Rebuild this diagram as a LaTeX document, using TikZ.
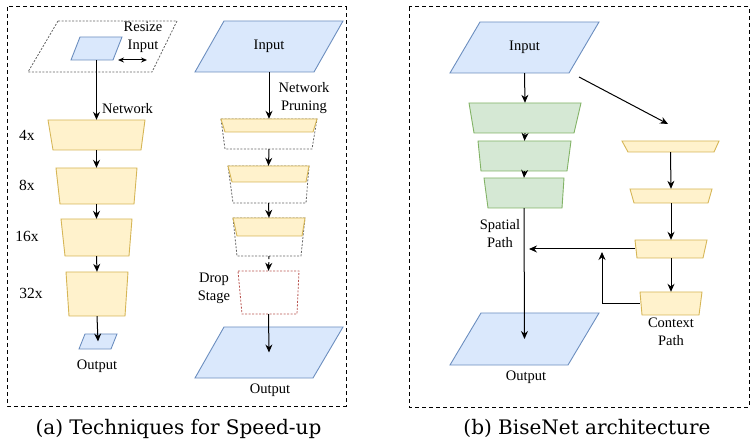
\documentclass[tikz,border=0pt]{standalone}
\usepackage{fontspec}
\setmainfont{Liberation Serif}
\newfontfamily\capfont{DejaVu Serif}
\usetikzlibrary{arrows.meta,fit}
\definecolor{bfill}{HTML}{DAE8FC}\definecolor{bdraw}{HTML}{6C8EBF}
\definecolor{yfill}{HTML}{FFF2CC}\definecolor{ydraw}{HTML}{D6B656}
\definecolor{gfill}{HTML}{D5E8D4}\definecolor{gdraw}{HTML}{82B366}
\definecolor{rdraw}{HTML}{B85450}\definecolor{dgrey}{HTML}{666666}
\newcommand\shp[6]{% name, style, p1, p2, p3, p4
  \draw[#2] #3 -- #4 -- #5 -- #6 -- cycle;
  \node[inner sep=0pt, fit={#3 #4 #5 #6}] (#1) {};}
\tikzset{
  blueshape/.style={fill=bfill, draw=bdraw, line width=0.9pt},
  yelshape/.style={fill=yfill, draw=ydraw, line width=0.9pt},
  grnshape/.style={fill=gfill, draw=gdraw, line width=0.9pt},
  greydot/.style={draw=dgrey, line width=0.8pt, dash pattern=on 2pt off 1.5pt},
  reddot/.style={draw=rdraw, line width=0.8pt, dash pattern=on 2pt off 1.5pt},
  frame/.style={draw=black, line width=1pt, dash pattern=on 4pt off 3pt},
  conn/.style={draw=black, line width=1pt, -{Stealth[length=8pt,width=7pt]}},
  lbl/.style={font=\fontsize{14.5}{18}\selectfont, align=center, inner sep=0pt},
  caplbl/.style={font=\capfont\fontsize{20}{24}\selectfont, inner sep=0pt, anchor=base}
}
\begin{document}
\begin{tikzpicture}[x=1pt,y=-1pt]
\useasboundingbox (0,0) rectangle (755,446);
% frames
\draw[frame] (7,7) rectangle (346,406);
\draw[frame] (409,7) rectangle (749,407);
% ---------- panel (a), column 1
\shp{rs}{greydot}{(58,21)}{(177,21)}{(152,72)}{(28,72)}
\shp{in1}{blueshape}{(80,37)}{(122,37)}{(113,60)}{(71,60)}
\shp{t1}{yelshape}{(48,120)}{(145,120)}{(141,150)}{(53,150)}
\shp{t2}{yelshape}{(56,168)}{(137,168)}{(134,204)}{(60,204)}
\shp{t3}{yelshape}{(61,219)}{(132,219)}{(129,256)}{(65,256)}
\shp{t4}{yelshape}{(66,272)}{(128,272)}{(125,316)}{(69,316)}
\shp{out1}{blueshape}{(85,334)}{(117,334)}{(111,349)}{(79,349)}
\node[lbl] (rsl) at (143,37) {Resize\\Input};
\coordinate (rsa) at (118,60); \coordinate (rsb) at (147,60);
\draw[line width=1pt, {Stealth[length=6pt,width=5pt]}-{Stealth[length=6pt,width=5pt]}] (rsa) -- (rsb);
\draw[conn] (in1.south) -- (t1.north);
\node[lbl, anchor=west] (netl) at (102,109) {Network};
\draw[conn] (t1.south) -- (t2.north);
\draw[conn] (t2.south) -- (t3.north);
\draw[conn] (t3.south) -- (t4.north);
\draw[conn] (t4.south) -- (out1.center);
\node[lbl, font=\fontsize{15.5}{18}\selectfont] (l4) at (27,135) {4x};
\node[lbl, font=\fontsize{15.5}{18}\selectfont] (l8) at (27,185) {8x};
\node[lbl, font=\fontsize{15.5}{18}\selectfont] (l16) at (27,236) {16x};
\node[lbl, font=\fontsize{15.5}{18}\selectfont] (l32) at (31,293) {32x};
\node[lbl] (o1l) at (97,366) {Output};
% ---------- panel (a), column 2
\shp{in2}{blueshape}{(224,21)}{(343,21)}{(314,72)}{(195,72)}
\node[lbl] (in2l) at (in2.center) {Input};
\shp{p1}{greydot}{(221,119)}{(317,119)}{(312,149)}{(225,149)}
\shp{p1y}{yelshape}{(221,119)}{(317,119)}{(313,132)}{(225,132)}
\shp{p2}{greydot}{(228,166)}{(309,166)}{(306,203)}{(233,203)}
\shp{p2y}{yelshape}{(228,166)}{(309,166)}{(306,182)}{(232,182)}
\shp{p3}{greydot}{(233,218)}{(305,218)}{(301,256)}{(237,256)}
\shp{p3y}{yelshape}{(233,218)}{(305,218)}{(302,236)}{(237,236)}
\shp{drop}{reddot}{(238,271)}{(299,271)}{(297,314)}{(242,314)}
\shp{out2}{blueshape}{(224,327)}{(343,327)}{(313,378)}{(195,378)}
\draw[conn] (in2.south) -- (p1.north);
\node[lbl] (npl) at (304,98) {Network\\Pruning};
\draw[conn] (p1.south) -- (p2.north);
\draw[conn] (p2.south) -- (p3.north);
\draw[conn, dashed] (p3.south) -- (drop.north);
\node[lbl] (dsl) at (214,288) {Drop\\Stage};
\draw[conn] (drop.south) -- (out2.center);
\node[lbl] (o2l) at (270,390) {Output};
% ---------- panel (b)
\shp{in3}{blueshape}{(480,22)}{(599,22)}{(569,73)}{(450,73)}
\node[lbl] (in3l) at (in3.center) {Input};
\shp{g1}{grnshape}{(469,103)}{(581,103)}{(574,133)}{(474,133)}
\shp{g2}{grnshape}{(478,141)}{(571,141)}{(567,171)}{(481,171)}
\shp{g3}{grnshape}{(484,178)}{(564,178)}{(562,208)}{(488,208)}
\shp{out3}{blueshape}{(481,313)}{(599,313)}{(568,365)}{(450,365)}
\shp{c1}{yelshape}{(622,141)}{(719,141)}{(714,152)}{(628,152)}
\shp{c2}{yelshape}{(630,189)}{(712,189)}{(708,203)}{(634,203)}
\shp{c3}{yelshape}{(635,240)}{(707,240)}{(703,258)}{(637,258)}
\shp{c4}{yelshape}{(640,292)}{(702,292)}{(699,315)}{(642,315)}
\draw[conn] (in3.south) -- (g1.north);
\draw[conn] (g1.south) -- (g2.north);
\draw[conn] (g2.south) -- (g3.north);
\draw[conn] (g3.south) -- (out3.center);
\coordinate (da) at (579,77); \coordinate (db) at (668,124);
\draw[conn] (da) -- (db);
\draw[conn] (c1.south) -- (c2.north);
\draw[conn] (c2.south) -- (c3.north);
\draw[conn] (c3.south) -- (c4.north);
\coordinate (sp) at (529,249);
\draw[conn] (c3.west |- sp) -- (sp);
\coordinate (fb) at (602,252);
\draw[conn] (c4.west) -| (fb);
\node[lbl] (spl) at (500,234) {Spatial\\Path};
\node[lbl] (o3l) at (526,377) {Output};
\node[lbl] (cpl) at (671,332) {Context\\Path};
% captions
\node[caplbl] (capa) at (178.5,434) {(a) Techniques for Speed-up};
\node[caplbl] (capb) at (587,434) {(b) BiseNet architecture};
\end{tikzpicture}
\end{document}
